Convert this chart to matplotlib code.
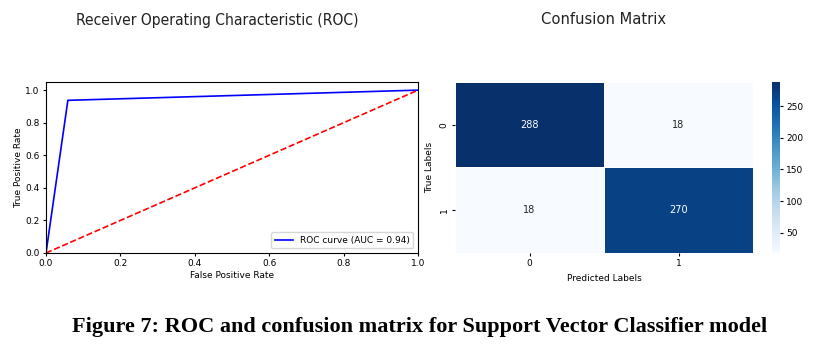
import numpy as np
import matplotlib.pyplot as plt
import seaborn as sns

# ROC curve points
fpr = [0.0, 0.0588, 1.0]
tpr = [0.0, 0.9375, 1.0]
auc_val = 0.94

# confusion matrix
cm = np.array([[288, 18],
               [18, 270]])
class_labels = ["0", "1"]

fig = plt.figure(figsize=(8.27, 3.55), dpi=100)
W, H = 827, 355

# ROC
ax1 = fig.add_axes([46/W, 102/H, 372/W, 171/H])
ax1.plot(fpr, tpr, color="blue", lw=1.2, label="ROC curve (AUC = %.2f)" % auc_val)
ax1.plot([0, 1], [0, 1], color="red", lw=1.2, ls="--")
ax1.set_xlim(0, 1)
ax1.set_ylim(0, 1.05)
ax1.set_xlabel("False Positive Rate", fontsize=6.5, labelpad=2)
ax1.set_ylabel("True Positive Rate", fontsize=6.5, labelpad=2)
ax1.tick_params(labelsize=6.5, length=2.5, pad=2)
ax1.legend(loc="lower right", fontsize=6.5)

# confusion matrix
ax2 = fig.add_axes([455/W, 102/H, 298/W, 171/H])
cax = fig.add_axes([772/W, 102/H, 8/W, 171/H])
sns.heatmap(cm, annot=True, fmt="d", cmap="Blues", ax=ax2, cbar_ax=cax,
            linewidths=0.5, linecolor="white",
            xticklabels=class_labels, yticklabels=class_labels,
            annot_kws={"fontsize": 7})
ax2.set_xlabel("Predicted Labels", fontsize=6.5, labelpad=4)
ax2.set_ylabel("True Labels", fontsize=6.5, labelpad=4)
ax2.tick_params(labelsize=6.5, length=2.5, pad=2)
plt.setp(ax2.get_yticklabels(), rotation=90, va="center")
cax.tick_params(labelsize=6.5, length=2.5, pad=2)
for s in cax.spines.values():
    s.set_visible(False)

fig.text(217/W, 1 - 20/H, "Receiver Operating Characteristic (ROC)", fontsize=11.2,
         fontstretch="condensed", ha="center", va="center", color="#222222")
fig.text(604/W, 1 - 20/H, "Confusion Matrix", fontsize=11.8,
         fontstretch="condensed", ha="center", va="center", color="#222222")

fig.text(420/W, 1 - 327/H, "Figure 7: ROC and confusion matrix for Support Vector Classifier model",
         fontsize=16, fontweight="bold", family="Liberation Serif",
         ha="center", va="center")

fig.savefig("out.png", dpi=100)
